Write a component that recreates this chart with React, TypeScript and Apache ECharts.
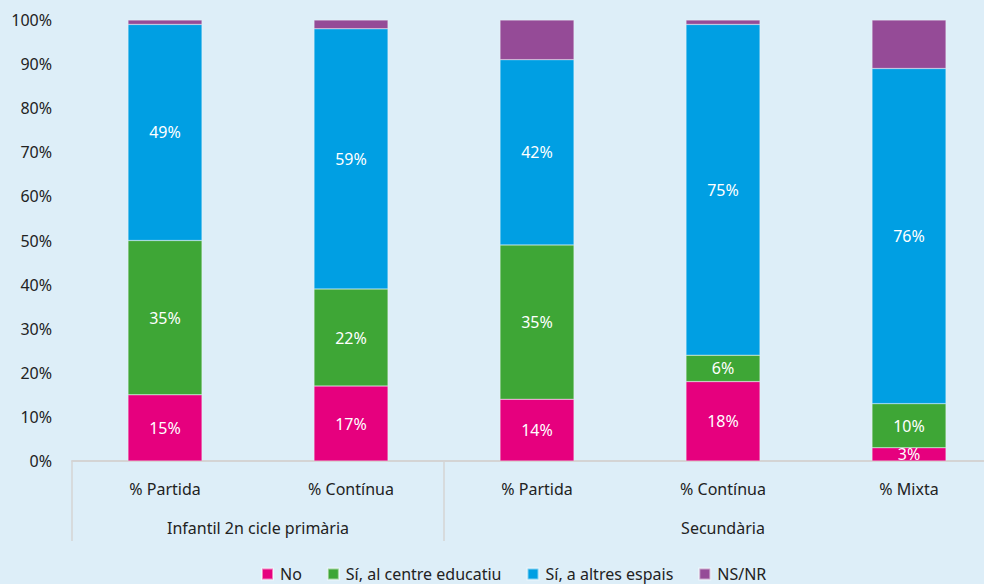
import React, { useEffect, useRef } from "react";
import * as echarts from "echarts";

const categories = ["% Partida", "% Contínua", "% Partida", "% Contínua", "% Mixta"];
const groups = ["Infantil 2n cicle primària", "Secundària"];
const groupSizes = [2, 3];
const seriesNames = ["No", "Sí, al centre educatiu", "Sí, a altres espais", "NS/NR"];
const noValues = [15, 17, 14, 18, 3];
const centreValues = [35, 22, 35, 6, 10];
const altresValues = [49, 59, 42, 75, 76];
const nsnrValues = [1, 2, 9, 1, 11];
const colors = ["#e6007e", "#3ea636", "#009fe3", "#954b97"];
const yTicks = [0, 10, 20, 30, 40, 50, 60, 70, 80, 90, 100];

const FONT = "Noto Sans";
const TEXT = "#222222";

export default function App() {
  const ref = useRef<HTMLDivElement>(null);
  useEffect(() => {
    document.body.style.margin = "0";
    document.body.style.overflow = "hidden";
    document.body.style.background = "#ddeef8";
    const chart = echarts.init(ref.current!, undefined, { renderer: "svg" });
    const data = [noValues, centreValues, altresValues, nsnrValues];
    const option: any = {
      animation: false,
      backgroundColor: "#ddeef8",
      textStyle: { fontFamily: FONT },
      grid: { left: 72, top: 20, right: 18, bottom: 123, containLabel: false },
      legend: {
        left: 261,
        top: 565,
        padding: 0,
        itemWidth: 11,
        itemHeight: 11,
        itemGap: 25,
        icon: "rect",
        textStyle: { fontFamily: FONT, fontSize: 16, color: TEXT, lineHeight: 18, padding: [0, 0, 0, 2] },
        data: seriesNames,
      },
      xAxis: {
        type: "category",
        data: categories,
        axisLine: { lineStyle: { color: "#d4d4d4", width: 2 } },
        axisTick: { show: false },
        axisLabel: { fontFamily: FONT, fontSize: 16, color: TEXT, margin: 20 },
      },
      yAxis: {
        type: "value",
        min: yTicks[0],
        max: yTicks[yTicks.length - 1],
        interval: 10,
        splitLine: { show: false },
        axisLine: { show: false },
        axisTick: { show: false },
        axisLabel: {
          fontFamily: FONT,
          fontSize: 16,
          color: TEXT,
          margin: 20,
          formatter: (v: number) => v + "%",
        },
      },
      series: seriesNames.map((name, i) => ({
        name,
        type: "bar",
        stack: "total",
        barWidth: 74,
        data: data[i],
        itemStyle: { color: colors[i], borderColor: "rgba(255,255,255,0.5)", borderWidth: 0.5 },
        label: {
          show: i < 3,
          position: "inside",
          color: "#ffffff",
          fontFamily: FONT,
          fontSize: 16,
          formatter: (p: any) => p.value + "%",
        },
      })),
    };
    chart.setOption(option);

    // group separators and group labels
    const y0 = chart.convertToPixel({ yAxisIndex: 0 }, 0) as number;
    const first = chart.convertToPixel({ xAxisIndex: 0 }, 0) as number;
    const second = chart.convertToPixel({ xAxisIndex: 0 }, 1) as number;
    const band = second - first;
    const gridLeft = first - band / 2;
    const elements: any[] = [];
    let start = 0;
    groups.forEach((g, gi) => {
      const xs = gridLeft + start * band;
      const xe = gridLeft + (start + groupSizes[gi]) * band;
      elements.push({
        type: "line",
        shape: { x1: xs, y1: y0, x2: xs, y2: y0 + 80 },
        style: { stroke: "#d4d4d4", lineWidth: 1.5 },
      });
      elements.push({
        type: "text",
        x: (xs + xe) / 2,
        y: y0 + 67,
        style: {
          text: g,
          fill: TEXT,
          font: `16px "${FONT}"`,
          textAlign: "center",
          textVerticalAlign: "middle",
        },
      });
      start += groupSizes[gi];
    });
    chart.setOption({ graphic: elements });

    return () => chart.dispose();
  }, []);
  return <div ref={ref} style={{ width: 1020, height: 584 }} />;
}
